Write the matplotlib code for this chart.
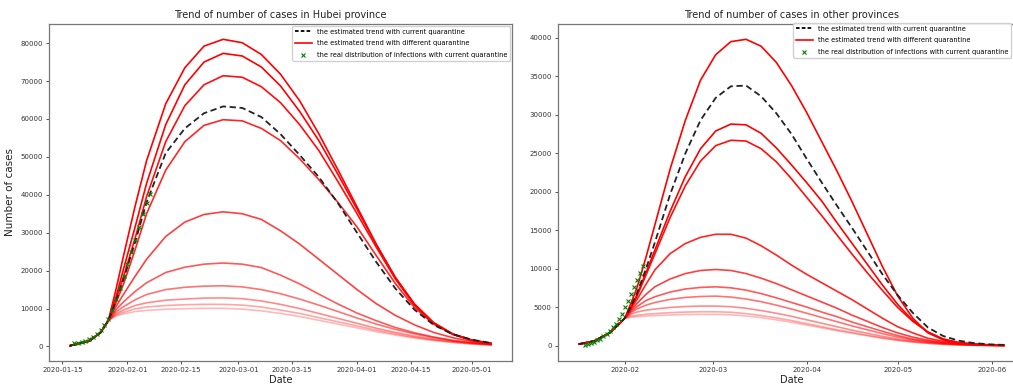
import matplotlib
matplotlib.use('Agg')
import matplotlib.pyplot as plt
import matplotlib.dates as mdates
from matplotlib.lines import Line2D
import pandas as pd

# ---- Hubei, x = days after 2020-01-15
hubei_days = [2, 7, 10, 12, 14, 16, 19, 22, 27, 32, 37, 42, 47, 52, 57, 62, 67, 72, 77, 82,
              87, 92, 97, 102, 107, 112]
hubei_current = [200, 1400, 3700, 6800, 12000, 17800, 27500, 38000, 51000, 57500, 61500, 63300,
                 62900, 60500, 56000, 50500, 44700, 37800, 30000, 22300, 15300, 9700, 5700,
                 3200, 1800, 900]
hubei_q1 = [200, 1400, 3700, 6800, 15000, 24000, 37000, 49000, 64000, 73500, 79200, 81000,
            80100, 77000, 71800, 64800, 56100, 46600, 36800, 27000, 18200, 11200, 6300, 3300,
            1700, 800]
hubei_q2 = [200, 1400, 3700, 6800, 13000, 20500, 31500, 43000, 58500, 69000, 75000, 77300,
            76600, 73700, 68700, 62000, 54300, 45400, 36200, 26900, 18200, 11100, 6200, 3300,
            1650, 800]
hubei_q3 = [200, 1400, 3700, 6800, 12300, 18500, 28500, 39500, 54000, 63500, 69000, 71400,
            71000, 68500, 64300, 58500, 51700, 43500, 35000, 26200, 17800, 10900, 6100, 3200,
            1600, 800]
hubei_q4 = [200, 1400, 3700, 6800, 11500, 16500, 25500, 35000, 46500, 54000, 58300, 59800,
            59500, 57500, 54300, 49500, 44000, 38000, 31500, 24000, 16600, 10300, 5900, 3200,
            1600, 800]
hubei_q5 = [200, 1400, 3700, 6800, 10500, 13800, 18500, 23000, 29000, 32800, 34800, 35500,
            35000, 33500, 30500, 27000, 23000, 19000, 15000, 11300, 8200, 5700, 3700, 2300,
            1300, 600]
hubei_q6 = [200, 1400, 3700, 6800, 9700, 11800, 14500, 16800, 19500, 20900, 21700, 22000,
            21700, 20800, 18800, 16500, 13800, 11200, 8800, 6800, 5000, 3600, 2500, 1600,
            1000, 600]
hubei_q7 = [200, 1400, 3700, 6800, 9100, 10500, 12300, 13700, 15000, 15600, 15900, 16000,
            15700, 15000, 13900, 12500, 10900, 9200, 7500, 5900, 4500, 3300, 2300, 1500, 900,
            500]
hubei_q8 = [200, 1400, 3700, 6800, 8600, 9600, 10800, 11500, 12200, 12500, 12750, 12800,
            12600, 12000, 11100, 10000, 8700, 7400, 6100, 4800, 3700, 2700, 1900, 1300, 800,
            450]
hubei_q9 = [200, 1400, 3700, 6800, 8300, 9000, 9900, 10400, 10800, 11000, 11100, 11100,
            10900, 10400, 9600, 8700, 7600, 6500, 5400, 4300, 3300, 2400, 1700, 1150, 700, 400]
hubei_q10 = [200, 1400, 3700, 6800, 8000, 8600, 9200, 9500, 9800, 9950, 10050, 10050, 9850,
             9400, 8700, 7900, 6900, 5900, 4900, 3900, 3000, 2200, 1550, 1050, 650, 380]
hubei_real_dates = pd.date_range('2020-01-18', '2020-02-07', freq='D')
hubei_real = [900, 1000, 1200, 1500, 1900, 2500, 3300, 4300, 5600, 7200, 9600, 12400, 15400,
              18500, 21700, 24900, 28200, 31500, 34800, 37800, 40300]

# ---- other provinces, x = days after 2020-02-01
other_days = [-15, -10, -5, -2, 0, 2, 4, 7, 10, 15, 20, 25, 30, 35, 40, 45, 50, 55, 60, 65,
              70, 75, 80, 85, 90, 95, 100, 105, 110, 115, 120, 125]
other_current = [250, 650, 1700, 2800, 3600, 5100, 6800, 10000, 13500, 19700, 25000, 29300,
                 32200, 33700, 33800, 32400, 30200, 27500, 24300, 21200, 18200, 15300, 12300,
                 9300, 6600, 4300, 2400, 1300, 700, 380, 220, 140]
other_q1 = [250, 650, 1700, 2800, 3600, 5500, 7500, 11500, 15800, 23000, 29300, 34500, 37800,
            39500, 39800, 38900, 36800, 33800, 30300, 26500, 22700, 18700, 14500, 10300, 6500,
            3600, 1700, 800, 400, 220, 140, 100]
other_q2 = [250, 650, 1700, 2800, 3600, 5000, 6600, 9500, 12500, 17500, 22000, 25600, 27900,
            28800, 28700, 27600, 25700, 23500, 21200, 18800, 16000, 13300, 10600, 7900, 5400,
            3300, 1800, 900, 450, 250, 150, 100]
other_q3 = [250, 650, 1700, 2800, 3600, 4900, 6400, 9200, 12000, 16700, 20800, 24000, 26000,
            26700, 26600, 25600, 23900, 21700, 19300, 16900, 14400, 11900, 9500, 7200, 5000,
            3200, 1800, 900, 450, 250, 150, 100]
other_q4 = [250, 650, 1700, 2800, 3600, 4800, 6000, 8000, 9900, 12000, 13300, 14100, 14500,
            14500, 14000, 13000, 11800, 10500, 9300, 8200, 7100, 6000, 4800, 3600, 2500, 1700,
            1000, 600, 350, 200, 130, 80]
other_q5 = [250, 650, 1700, 2800, 3600, 4600, 5500, 6700, 7700, 8700, 9400, 9800, 9930, 9800,
            9400, 8800, 8100, 7300, 6500, 5700, 4900, 4000, 3200, 2400, 1700, 1150, 750, 450,
            280, 170, 110, 70]
other_q6 = [250, 650, 1700, 2800, 3600, 4450, 5100, 5900, 6400, 7000, 7400, 7600, 7680, 7550,
            7250, 6800, 6250, 5650, 5050, 4400, 3800, 3100, 2500, 1900, 1350, 900, 600, 380,
            240, 150, 100, 60]
other_q7 = [250, 650, 1700, 2800, 3600, 4300, 4800, 5300, 5650, 6050, 6300, 6420, 6470, 6350,
            6100, 5750, 5300, 4800, 4250, 3700, 3150, 2600, 2100, 1600, 1150, 780, 520, 330,
            210, 130, 90, 55]
other_q8 = [250, 650, 1700, 2800, 3600, 4100, 4400, 4650, 4800, 5000, 5120, 5180, 5180, 5100,
            4900, 4600, 4250, 3850, 3400, 2950, 2500, 2050, 1650, 1250, 900, 620, 420, 270,
            170, 110, 75, 50]
other_q9 = [250, 650, 1700, 2800, 3600, 3850, 3980, 4120, 4200, 4330, 4400, 4440, 4440, 4380,
            4200, 3950, 3650, 3300, 2900, 2500, 2100, 1750, 1400, 1050, 760, 530, 360, 230,
            150, 95, 65, 45]
other_q10 = [250, 650, 1700, 2800, 3600, 3720, 3800, 3890, 3950, 4030, 4080, 4100, 4100, 4050,
             3900, 3680, 3400, 3080, 2720, 2350, 1980, 1650, 1320, 1000, 720, 500, 340, 220,
             140, 90, 60, 40]
other_real_dates = pd.date_range('2020-01-19', '2020-02-07', freq='D')
other_real = [150, 250, 400, 550, 750, 950, 1250, 1600, 1950, 2400, 2900, 3500, 4200, 5000,
              5900, 6800, 7700, 8600, 9500, 10400]

hubei_dates = pd.Timestamp('2020-01-15') + pd.to_timedelta(hubei_days, unit='D')
other_dates = pd.Timestamp('2020-02-01') + pd.to_timedelta(other_days, unit='D')

alphas = [1.0, 1.0, 0.95, 0.85, 0.75, 0.65, 0.55, 0.45, 0.35, 0.28]
labels = ['the estimated trend with current quarantine',
          'the estimated trend with different quarantine',
          'the real distribution of infections with current quarantine']

fig = plt.figure(figsize=(10.13, 3.85), dpi=100)
ax1 = fig.add_axes([49 / 1013, 24 / 385, 463 / 1013, 337 / 385])
ax2 = fig.add_axes([558 / 1013, 24 / 385, 467 / 1013, 337 / 385])


def draw(ax, dates, current, scenarios, real_dates, real, title):
    for vals, a in zip(scenarios, alphas):
        ax.plot(dates, vals, color='red', lw=1.2, alpha=a)
    ax.plot(dates, current, color='#222222', lw=1.3, ls=(0, (3.5, 2)))
    ax.plot(real_dates, real, 'x', color='green', ms=2.8, mew=0.8)
    ax.set_title(title, fontsize=7, pad=4, color='#222222')
    ax.set_xlabel('Date', fontsize=7, labelpad=1, color='#222222')
    ax.tick_params(labelsize=5, length=2.5, width=0.6, pad=2, colors='#333333')
    for s in ax.spines.values():
        s.set_color('#777777')
        s.set_linewidth(0.9)


draw(ax1, hubei_dates, hubei_current,
     [hubei_q1, hubei_q2, hubei_q3, hubei_q4, hubei_q5, hubei_q6, hubei_q7, hubei_q8,
      hubei_q9, hubei_q10],
     hubei_real_dates, hubei_real, 'Trend of number of cases in Hubei province')
draw(ax2, other_dates, other_current,
     [other_q1, other_q2, other_q3, other_q4, other_q5, other_q6, other_q7, other_q8,
      other_q9, other_q10],
     other_real_dates, other_real, 'Trend of number of cases in other provinces')

handles = [Line2D([], [], color='black', lw=1.3, ls=(0, (2, 1.2))),
           Line2D([], [], color='red', lw=1.2),
           Line2D([], [], color='green', marker='x', ls='', ms=2.8, mew=0.8)]
leg_kw = dict(fontsize=4.8, labelspacing=0.85, handlelength=2.5, framealpha=0.9, fancybox=True)
ax1.legend(handles, labels, loc='upper right', borderaxespad=0.3, **leg_kw)
ax2.legend(handles, labels, loc='upper right', bbox_to_anchor=(1011 / 1013, 362 / 385),
           bbox_transform=fig.transFigure, borderaxespad=0, **leg_kw)

ax1.set_ylabel('Number of cases', fontsize=7.5, labelpad=4, color='#222222')
ax1.xaxis.set_major_locator(mdates.DayLocator(bymonthday=[1, 15]))
ax1.xaxis.set_major_formatter(mdates.DateFormatter('%Y-%m-%d'))
ax2.xaxis.set_major_locator(mdates.MonthLocator())
ax2.xaxis.set_major_formatter(mdates.DateFormatter('%Y-%m'))

fig.savefig('out.png', dpi=100)
